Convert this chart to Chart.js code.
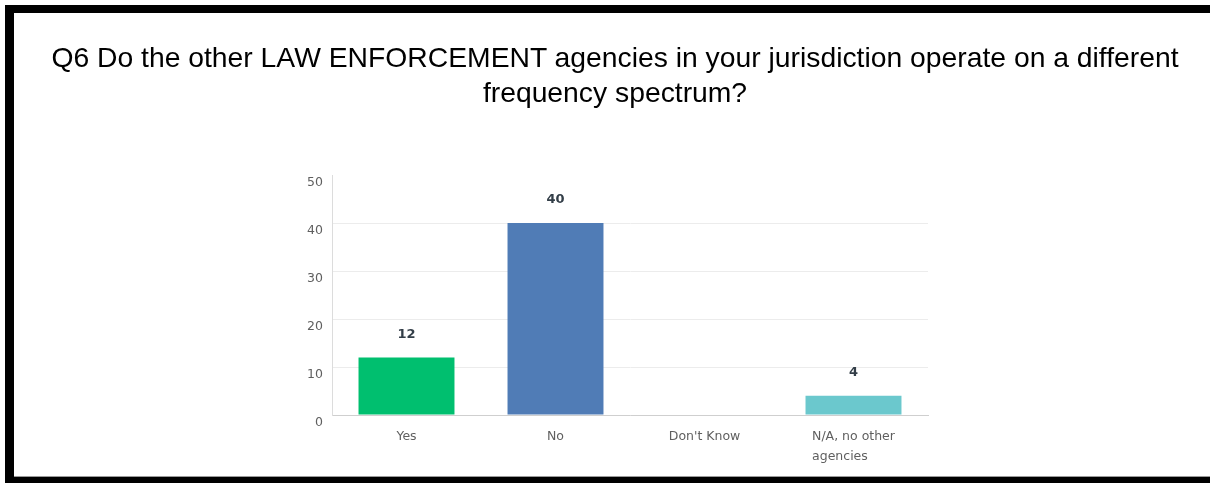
<!DOCTYPE html>
<html>
<head>
<meta charset="utf-8">
<script src="https://cdn.jsdelivr.net/npm/chart.js@4/dist/chart.umd.min.js"></script>
<style>
  html, body { margin: 0; padding: 0; background: #fff; }
  body { width: 1210px; height: 483px; position: relative; overflow: hidden; }
  .frame-top { position: absolute; left: 5px; top: 5px; width: 1205px; height: 8px; background: #000; }
  .frame-left { position: absolute; left: 5px; top: 5px; width: 9px; height: 478px; background: #000; }
  .frame-bottom { position: absolute; left: 5px; top: 477px; width: 1205px; height: 6px; background: #000; }
  .frame-shadow { position: absolute; left: 14px; top: 476px; width: 1196px; height: 1px; background: #9a9a9a; }
  #title {
    position: absolute; left: 14px; top: 40px; width: 1202px;
    font-family: 'Liberation Sans', Arial, sans-serif; font-size: 28.3px; line-height: 35px;
    color: #000; text-align: center; white-space: nowrap;
  }
  #wrap { position: absolute; left: 14px; top: 13px; width: 1196px; height: 463px; }
</style>
</head>
<body>
<div class="frame-top"></div>
<div class="frame-left"></div>
<div class="frame-shadow"></div>
<div class="frame-bottom"></div>
<div id="wrap"><canvas id="chart"></canvas></div>
<div id="title"></div>
<script>
// Survey question and answer counts
const titleLines = [
  'Q6 Do the other LAW ENFORCEMENT agencies in your jurisdiction operate on a different',
  'frequency spectrum?'
];
const categories = [['Yes'], ['No'], ["Don't Know"], ['N/A, no other', 'agencies']];
const responses = [12, 40, 0, 4];
const barColors = ['#00bf6f', '#507cb6', '#f05b24', '#6bc8cd'];
const yTicks = [0, 10, 20, 30, 40, 50];

// Question heading above the chart
const titleEl = document.getElementById('title');
titleLines.forEach((line, i) => {
  if (i) titleEl.appendChild(document.createElement('br'));
  titleEl.appendChild(document.createTextNode(line));
});

const labelColor = '#5f5f5f';
const labelFont = '12.5px "DejaVu Sans"';

// Draws the response count above each non-empty bar
const valueLabels = {
  id: 'valueLabels',
  afterDatasetsDraw(chart) {
    const ctx = chart.ctx;
    const meta = chart.getDatasetMeta(0);
    ctx.save();
    ctx.font = 'bold 13px "DejaVu Sans"';
    ctx.fillStyle = '#333e48';
    ctx.textAlign = 'center';
    ctx.textBaseline = 'middle';
    meta.data.forEach((bar, i) => {
      const v = responses[i];
      if (!v) return;
      ctx.fillText(String(v), bar.x, bar.y - 23);
    });
    ctx.restore();
  }
};

// Category names under the x axis: each block is centred on its tick,
// with wrapped lines aligned on their left edge
const categoryLabels = {
  id: 'categoryLabels',
  afterDraw(chart) {
    const ctx = chart.ctx;
    const xs = chart.scales.x;
    ctx.save();
    ctx.font = labelFont;
    ctx.fillStyle = labelColor;
    ctx.textAlign = 'left';
    ctx.textBaseline = 'middle';
    categories.forEach((lines, i) => {
      const cx = xs.getPixelForTick(i);
      const w = Math.max(...lines.map(l => ctx.measureText(l).width));
      lines.forEach((line, j) => {
        ctx.fillText(line, cx - w / 2, xs.top + 22 + j * 20);
      });
    });
    ctx.restore();
  }
};

new Chart(document.getElementById('chart'), {
  type: 'bar',
  data: {
    labels: categories,
    datasets: [{
      data: responses,
      backgroundColor: barColors,
      borderWidth: 0,
      barPercentage: 0.644,
      categoryPercentage: 1
    }]
  },
  options: {
    responsive: true,
    maintainAspectRatio: false,
    animation: false,
    layout: { padding: { left: 278, right: 282, top: 162, bottom: 0 } },
    plugins: {
      legend: { display: false },
      tooltip: { enabled: false },
      title: { display: false }
    },
    scales: {
      x: {
        grid: { display: false, drawTicks: false },
        border: { display: true, color: '#cfcfcf', width: 1 },
        ticks: { color: 'rgba(0,0,0,0)', font: { family: 'DejaVu Sans', size: 12.5, lineHeight: '20px' }, padding: 12, maxRotation: 0, autoSkip: false },
        afterFit(scale) { scale.height = 61; }
      },
      y: {
        min: 0,
        max: 50,
        afterBuildTicks(scale) { scale.ticks = yTicks.map(v => ({ value: v })); },
        grid: {
          drawTicks: false,
          color: ctx => (ctx.tick && ctx.tick.value === 50) ? 'rgba(0,0,0,0)' : '#ececec',
          lineWidth: 1
        },
        border: { display: true, color: '#dcdcdc', width: 1 },
        ticks: { color: labelColor, font: { family: 'DejaVu Sans', size: 12.5 }, padding: 9, labelOffset: 8 },
        afterFit(scale) { scale.width = 40; }
      }
    }
  },
  plugins: [valueLabels, categoryLabels]
});
</script>
</body>
</html>
